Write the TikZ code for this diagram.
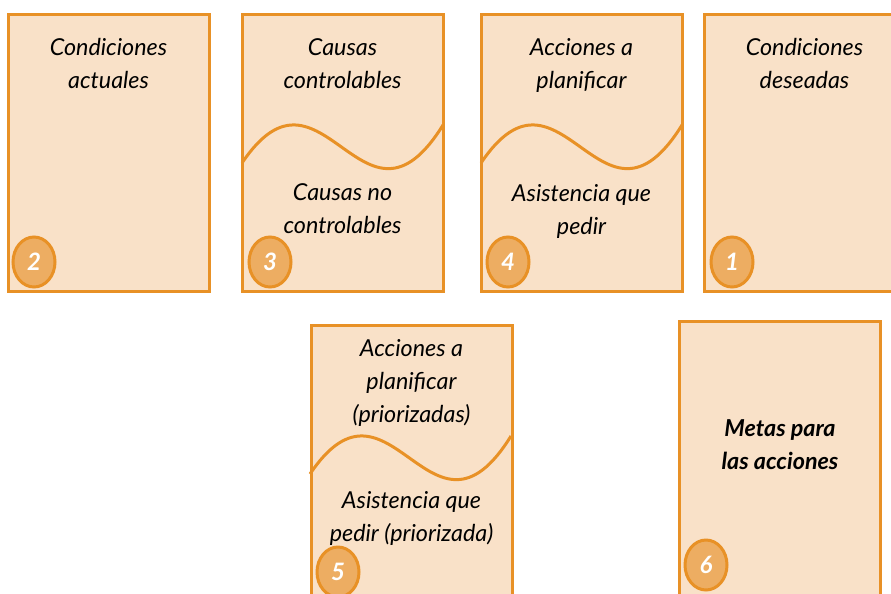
\documentclass[tikz,border=0pt]{standalone}
\usepackage{fontspec}
\setmainfont{Lato}
\usepackage{tikz}
\usetikzlibrary{shapes.geometric,positioning}
\definecolor{cardfill}{RGB}{249,225,200}
\definecolor{cardline}{RGB}{232,145,38}
\definecolor{badgefill}{RGB}{237,173,98}

\begin{document}
\begin{tikzpicture}[x=0.75pt,y=-0.75pt,
  card/.style={rectangle, draw=cardline, fill=cardfill, line width=2.25pt, minimum width=150.75pt, minimum height=207.75pt, inner sep=0pt},
  txt/.style={align=center, font=\fontsize{17.5}{24.75}\selectfont\itshape, inner sep=0pt},
  badge/.style={ellipse, draw=cardline, fill=badgefill, line width=2.25pt, minimum width=31.5pt, minimum height=37.5pt, inner sep=0pt, text=white, font=\fontsize{18}{18}\selectfont\bfseries\itshape},
  wave/.style={draw=cardline, line width=2.25pt}]
\useasboundingbox (0,0) rectangle (891,593);

% top row
\node [card] (actual) at (108.5,152.5) {};
\node [card] (causas) at (342.5,152.5) {};
\node [card] (acciones) at (581.5,152.5) {};
\node [card] (deseadas) at (804.5,152.5) {};
% bottom row
\node [card] (prior) at (411.5,463.5) {};
\node [card] (metas) at (780,459.5) {};

\foreach \sx/\sy in {242/14, 481/14, 310/325}
  \draw [wave, shift={(\sx,\sy)}] (0,149) .. controls (80,30) and (121,240) .. (201,111);

\node [txt] (actualtxt) at (108.5,63.5) {Condiciones\\actuales};
\node [txt] (controltxt) at (342.5,63.5) {Causas\\controlables};
\node [txt] (nocontroltxt) at (342.5,208.5) {Causas no\\controlables};
\node [txt] (planificartxt) at (581.5,65.5) {Acciones a\\planificar};
\node [txt] (pedirtxt) at (581.5,211) {Asistencia que\\pedir};
\node [txt] (deseadastxt) at (804.5,63.5) {Condiciones\\deseadas};
\node [txt] (priortxt) at (411.5,382.5) {Acciones a\\planificar\\(priorizadas)};
\node [txt] (pedirpriortxt) at (411.5,518.5) {Asistencia que\\pedir (priorizada)};
\node [txt, font=\fontsize{17.5}{24.75}\selectfont\bfseries\itshape] (metastxt) at (780,444.5) {Metas para\\las acciones};

\node [badge] (n2) at (34,262) {2};
\node [badge] (n3) at (270,262) {3};
\node [badge] (n4) at (508,262) {4};
\node [badge] (n1) at (732,262) {1};
\node [badge] (n5) at (338,572) {5};
\node [badge] (n6) at (706,565) {6};

\end{tikzpicture}
\end{document}
